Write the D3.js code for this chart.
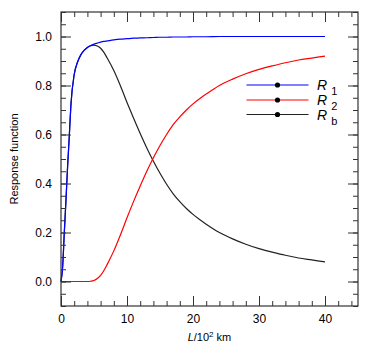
<!DOCTYPE html>
<html><head><meta charset="utf-8">
<script src="https://cdn.jsdelivr.net/npm/d3@7"></script>
<style>
html,body{margin:0;padding:0;background:#fff;}
svg{display:block;font-family:"Liberation Sans",Arial,sans-serif;}
</style></head>
<body><svg id="c" width="369" height="351"></svg>
<script>
const L  = [0,0.25,0.5,0.75,1,1.25,1.5,2,2.5,3,3.5,4,4.5,5,5.5,6,6.5,7,8,9,10,11,12,13,14,15,16,17,18,19,20,21,22,24,26,28,30,32,34,36,38,40];
const R1 = [0,0.06,0.2,0.33,0.47,0.59,0.72,0.845,0.895,0.925,0.943,0.955,0.963,0.969,0.973,0.977,0.98,0.982,0.986,0.989,0.991,0.993,0.994,0.995,0.996,0.997,0.997,0.998,0.998,0.998,0.999,0.999,0.999,1,1,1,1,1,1,1,1,1];
const R2 = [0,0,0,0,0,0,0,0,0,0,0,0,0.001,0.004,0.012,0.025,0.045,0.07,0.125,0.19,0.26,0.327,0.39,0.45,0.505,0.555,0.6,0.64,0.672,0.7,0.725,0.746,0.765,0.8,0.826,0.848,0.866,0.88,0.893,0.904,0.912,0.92];
const Rb = [0,0.06,0.2,0.33,0.47,0.59,0.72,0.845,0.895,0.925,0.943,0.955,0.962,0.965,0.961,0.952,0.935,0.912,0.861,0.799,0.731,0.666,0.604,0.545,0.491,0.442,0.397,0.358,0.326,0.298,0.274,0.253,0.234,0.2,0.174,0.152,0.134,0.12,0.107,0.096,0.088,0.08];
const seriesNames = ["1","2","b"];
const seriesColors = ["#0000ff","#ff0000","#222222"];
const xTicksMajor = [0,10,20,30,40];
const yTicksMajor = [0,0.2,0.4,0.6,0.8,1.0];

const svg = d3.select("#c");
const m = {l:61, r:11, t:12, b:45};
const W = 369, H = 351;
const x = d3.scaleLinear().domain([0,45]).range([m.l, W-m.r]);
const y = d3.scaleLinear().domain([-0.1,1.1]).range([H-m.b, m.t]);

const series = [R1,R2,Rb];
const line = d3.line().x((d,i)=>x(L[i])).y(d=>y(d)).curve(d3.curveMonotoneX);
[2,1,0].forEach(k=>{
  svg.append("path").attr("d", line(series[k])).attr("fill","none")
    .attr("stroke", seriesColors[k]).attr("stroke-width",1.2);
});

const axCol = "#333";
const xMinor = d3.range(0,46,2);
const yMinor = d3.range(-0.1,1.1001,0.05).map(v=>+v.toFixed(2));
function addAxis(gen, tr){
  const g = svg.append("g").attr("transform",tr).call(gen);
  g.select(".domain").remove();
  g.selectAll("line").attr("stroke",axCol);
  return g;
}
// minor ticks
addAxis(d3.axisBottom(x).tickValues(xMinor).tickSize(-5).tickFormat(""), `translate(0,${H-m.b})`);
addAxis(d3.axisTop(x).tickValues(xMinor).tickSize(-5).tickFormat(""), `translate(0,${m.t})`);
addAxis(d3.axisLeft(y).tickValues(yMinor).tickSize(-5).tickFormat(""), `translate(${m.l},0)`);
addAxis(d3.axisRight(y).tickValues(yMinor).tickSize(-5).tickFormat(""), `translate(${W-m.r},0)`);
// major ticks
const xb = addAxis(d3.axisBottom(x).tickValues(xTicksMajor).tickSize(-10).tickPadding(7).tickFormat(d3.format("d")), `translate(0,${H-m.b})`);
xb.selectAll("text").attr("font-size",12).attr("fill","#000").attr("dy","0.9em").attr("y",6);
addAxis(d3.axisTop(x).tickValues(xTicksMajor).tickSize(-10).tickFormat(""), `translate(0,${m.t})`);
const yl = addAxis(d3.axisLeft(y).tickValues(yTicksMajor).tickSize(-10).tickFormat(d3.format(".1f")), `translate(${m.l},0)`);
yl.selectAll("text").attr("font-size",12).attr("fill","#000").attr("x",-9);
addAxis(d3.axisRight(y).tickValues(yTicksMajor).tickSize(-10).tickFormat(""), `translate(${W-m.r},0)`);

svg.append("rect").attr("x",m.l).attr("y",m.t).attr("width",W-m.l-m.r).attr("height",H-m.t-m.b)
  .attr("fill","none").attr("stroke",axCol).attr("stroke-width",1.2);

// axis titles
const xt = svg.append("text").attr("x",(m.l+W-m.r)/2).attr("y",341).attr("text-anchor","middle").attr("font-size",11);
xt.append("tspan").attr("font-style","italic").text("L");
xt.append("tspan").text("/10");
xt.append("tspan").attr("font-size",8).attr("dy",-4).text("2");
xt.append("tspan").attr("dy",4).text(" km");
svg.append("text").attr("transform",`translate(18,${(m.t+H-m.b)/2}) rotate(-90)`)
  .attr("text-anchor","middle").attr("font-size",11).text("Response function");

// legend
const legY = [85,100,114.5];
seriesNames.forEach((n,k)=>{
  const g = svg.append("g");
  g.append("line").attr("x1",246.5).attr("x2",308.5).attr("y1",legY[k]).attr("y2",legY[k])
    .attr("stroke",seriesColors[k]).attr("stroke-width",1.2);
  g.append("circle").attr("cx",277.5).attr("cy",legY[k]).attr("r",2.6).attr("fill","#000");
  const t = g.append("text").attr("x",317).attr("y",legY[k]+5).attr("font-size",14);
  t.append("tspan").attr("font-style","italic").text("R");
  t.append("tspan").attr("font-size",11).attr("dx",4).attr("dy",5).text(n);
});
</script></body></html>
